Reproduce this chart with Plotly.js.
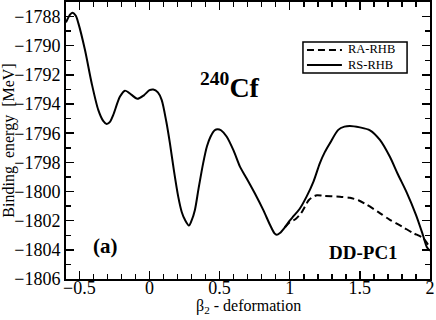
<!DOCTYPE html>
<html>
<head>
<meta charset="utf-8">
<script src="https://cdn.plot.ly/plotly-3.0.1.min.js"></script>
<style>
  html, body { margin: 0; padding: 0; background: #fff; }
  #chart { width: 436px; height: 320px; }
</style>
</head>
<body>
<div id="chart"></div>
<script>
// RS-RHB (solid)
const rsBeta = [-0.595, -0.565, -0.547, -0.525, -0.507, -0.46, -0.412, -0.365, -0.33, -0.305,
  -0.28, -0.258, -0.21, -0.175, -0.13, -0.087, -0.04, 0.0, 0.027, 0.06,
  0.087, 0.12, 0.146, 0.175, 0.205, 0.23, 0.253, 0.281, 0.30, 0.324,
  0.35, 0.383, 0.41, 0.436, 0.465, 0.486, 0.51, 0.55, 0.6, 0.645,
  0.693, 0.75, 0.811, 0.86, 0.89, 0.907, 0.93, 0.966, 1.0, 1.025,
  1.07, 1.12, 1.17, 1.215, 1.25, 1.287, 1.346, 1.39, 1.429, 1.5,
  1.572, 1.643, 1.714, 1.77, 1.835, 1.9, 1.95, 1.977, 2.0];
const rsEnergy = [-1788.4, -1787.85, -1787.73, -1787.95, -1788.45, -1790.28, -1792.57, -1794.4, -1795.15, -1795.36,
  -1795.2, -1794.74, -1793.49, -1793.08, -1793.35, -1793.64, -1793.4, -1793.05, -1793.0, -1793.2,
  -1793.71, -1795.2, -1796.7, -1798.6, -1800.35, -1801.4, -1801.94, -1802.33, -1802.0, -1801.26,
  -1799.8, -1798.05, -1796.9, -1796.23, -1795.8, -1795.72, -1795.8, -1796.23, -1797.2, -1798.29,
  -1799.1, -1800.1, -1801.26, -1802.3, -1802.85, -1802.97, -1802.85, -1802.45, -1802.0, -1801.71,
  -1801.2, -1800.35, -1799.3, -1798.05, -1797.3, -1796.68, -1795.77, -1795.55, -1795.5, -1795.6,
  -1795.8, -1796.46, -1797.62, -1798.8, -1800.09, -1801.6, -1803.0, -1803.8, -1804.07];

// RA-RHB (dashed)
const raBeta = [0.966, 1.0, 1.04, 1.08, 1.11, 1.135, 1.16, 1.195, 1.24, 1.3,
  1.358, 1.429, 1.49, 1.55, 1.63, 1.714, 1.8, 1.88, 1.949, 2.0];
const raEnergy = [-1802.45, -1802.1, -1801.9, -1801.5, -1801.0, -1800.6, -1800.4, -1800.25, -1800.3, -1800.33,
  -1800.35, -1800.43, -1800.6, -1800.91, -1801.4, -1801.94, -1802.4, -1802.85, -1803.18, -1803.86];

const legendNames = ['RA-RHB', 'RS-RHB'];

const serif = '"Liberation Serif", "Times New Roman", serif';

const traces = [
  {
    x: raBeta, y: raEnergy, name: legendNames[0], mode: 'lines',
    line: { color: '#000', width: 2, dash: '7px,4px', shape: 'spline', smoothing: 0.8 }
  },
  {
    x: rsBeta, y: rsEnergy, name: legendNames[1], mode: 'lines',
    line: { color: '#000', width: 2, shape: 'spline', smoothing: 0.8 }
  }
];

const axisCommon = {
  showline: true, linecolor: '#000', linewidth: 2, mirror: 'ticks',
  ticks: 'inside', ticklen: 8, tickwidth: 1.5, tickcolor: '#000',
  showgrid: false, zeroline: false,
  tickfont: { family: serif, size: 18, color: '#000' }
};

// hand-made legend box (plotly's own legend rows are too tall here)
const legendShapes = [
  { type: 'rect', xref: 'paper', yref: 'paper', x0: 0.651, x1: 0.937, y0: 0.744, y1: 0.856,
    line: { color: '#000', width: 1.5 }, fillcolor: '#fff' },
  { type: 'line', xref: 'paper', yref: 'paper', x0: 0.662, x1: 0.758, y0: 0.827, y1: 0.827,
    line: { color: '#000', width: 2, dash: '7px,4px' } },
  { type: 'line', xref: 'paper', yref: 'paper', x0: 0.662, x1: 0.758, y0: 0.773, y1: 0.773,
    line: { color: '#000', width: 2 } }
];

const layout = {
  width: 436, height: 320,
  margin: { l: 66, r: 6, t: 2, b: 41 },
  paper_bgcolor: '#fff', plot_bgcolor: '#fff',
  font: { family: serif, color: '#000' },
  showlegend: false,
  shapes: legendShapes,
  xaxis: Object.assign({}, axisCommon, {
    range: [-0.595, 2], dtick: 0.5, tick0: 0, ticklabelstandoff: -9,
    minor: { dtick: 0.1, ticks: 'inside', ticklen: 5, tickwidth: 1.5, tickcolor: '#000' }
  }),
  yaxis: Object.assign({}, axisCommon, {
    range: [-1806, -1787], dtick: 2, tick0: -1806,
    minor: { dtick: 1, ticks: 'inside', ticklen: 5, tickwidth: 1.5, tickcolor: '#000' },
    title: { text: 'Binding  energy  [MeV]', font: { family: serif, size: 16 }, standoff: 3 }
  }),
  annotations: [
    { x: 0.5, y: 0, xref: 'paper', yref: 'paper', xanchor: 'center', yanchor: 'middle',
      yshift: -27, showarrow: false,
      text: 'β<sub>2</sub> - deformation', font: { family: serif, size: 16, color: '#000' } },
    { x: 0.768, y: 0.8, xref: 'paper', yref: 'paper', xanchor: 'left', yanchor: 'middle',
      align: 'left', showarrow: false,
      text: legendNames.join('<br>'), font: { family: serif, size: 12.5, color: '#000' } },
    { x: 0.574, y: -1792.75, xref: 'x', yref: 'y', showarrow: false,
      text: '<b><sup>240</sup>Cf</b>', font: { family: serif, size: 28, color: '#000' } },
    { x: -0.31, y: -1803.73, xref: 'x', yref: 'y', showarrow: false,
      text: '<b>(a)</b>', font: { family: serif, size: 21, color: '#000' } },
    { x: 1.529, y: -1804.21, xref: 'x', yref: 'y', showarrow: false,
      text: '<b>DD-PC1</b>', font: { family: serif, size: 19, color: '#000' } }
  ]
};

Plotly.newPlot('chart', traces, layout, { displayModeBar: false, staticPlot: true });
</script>
</body>
</html>
